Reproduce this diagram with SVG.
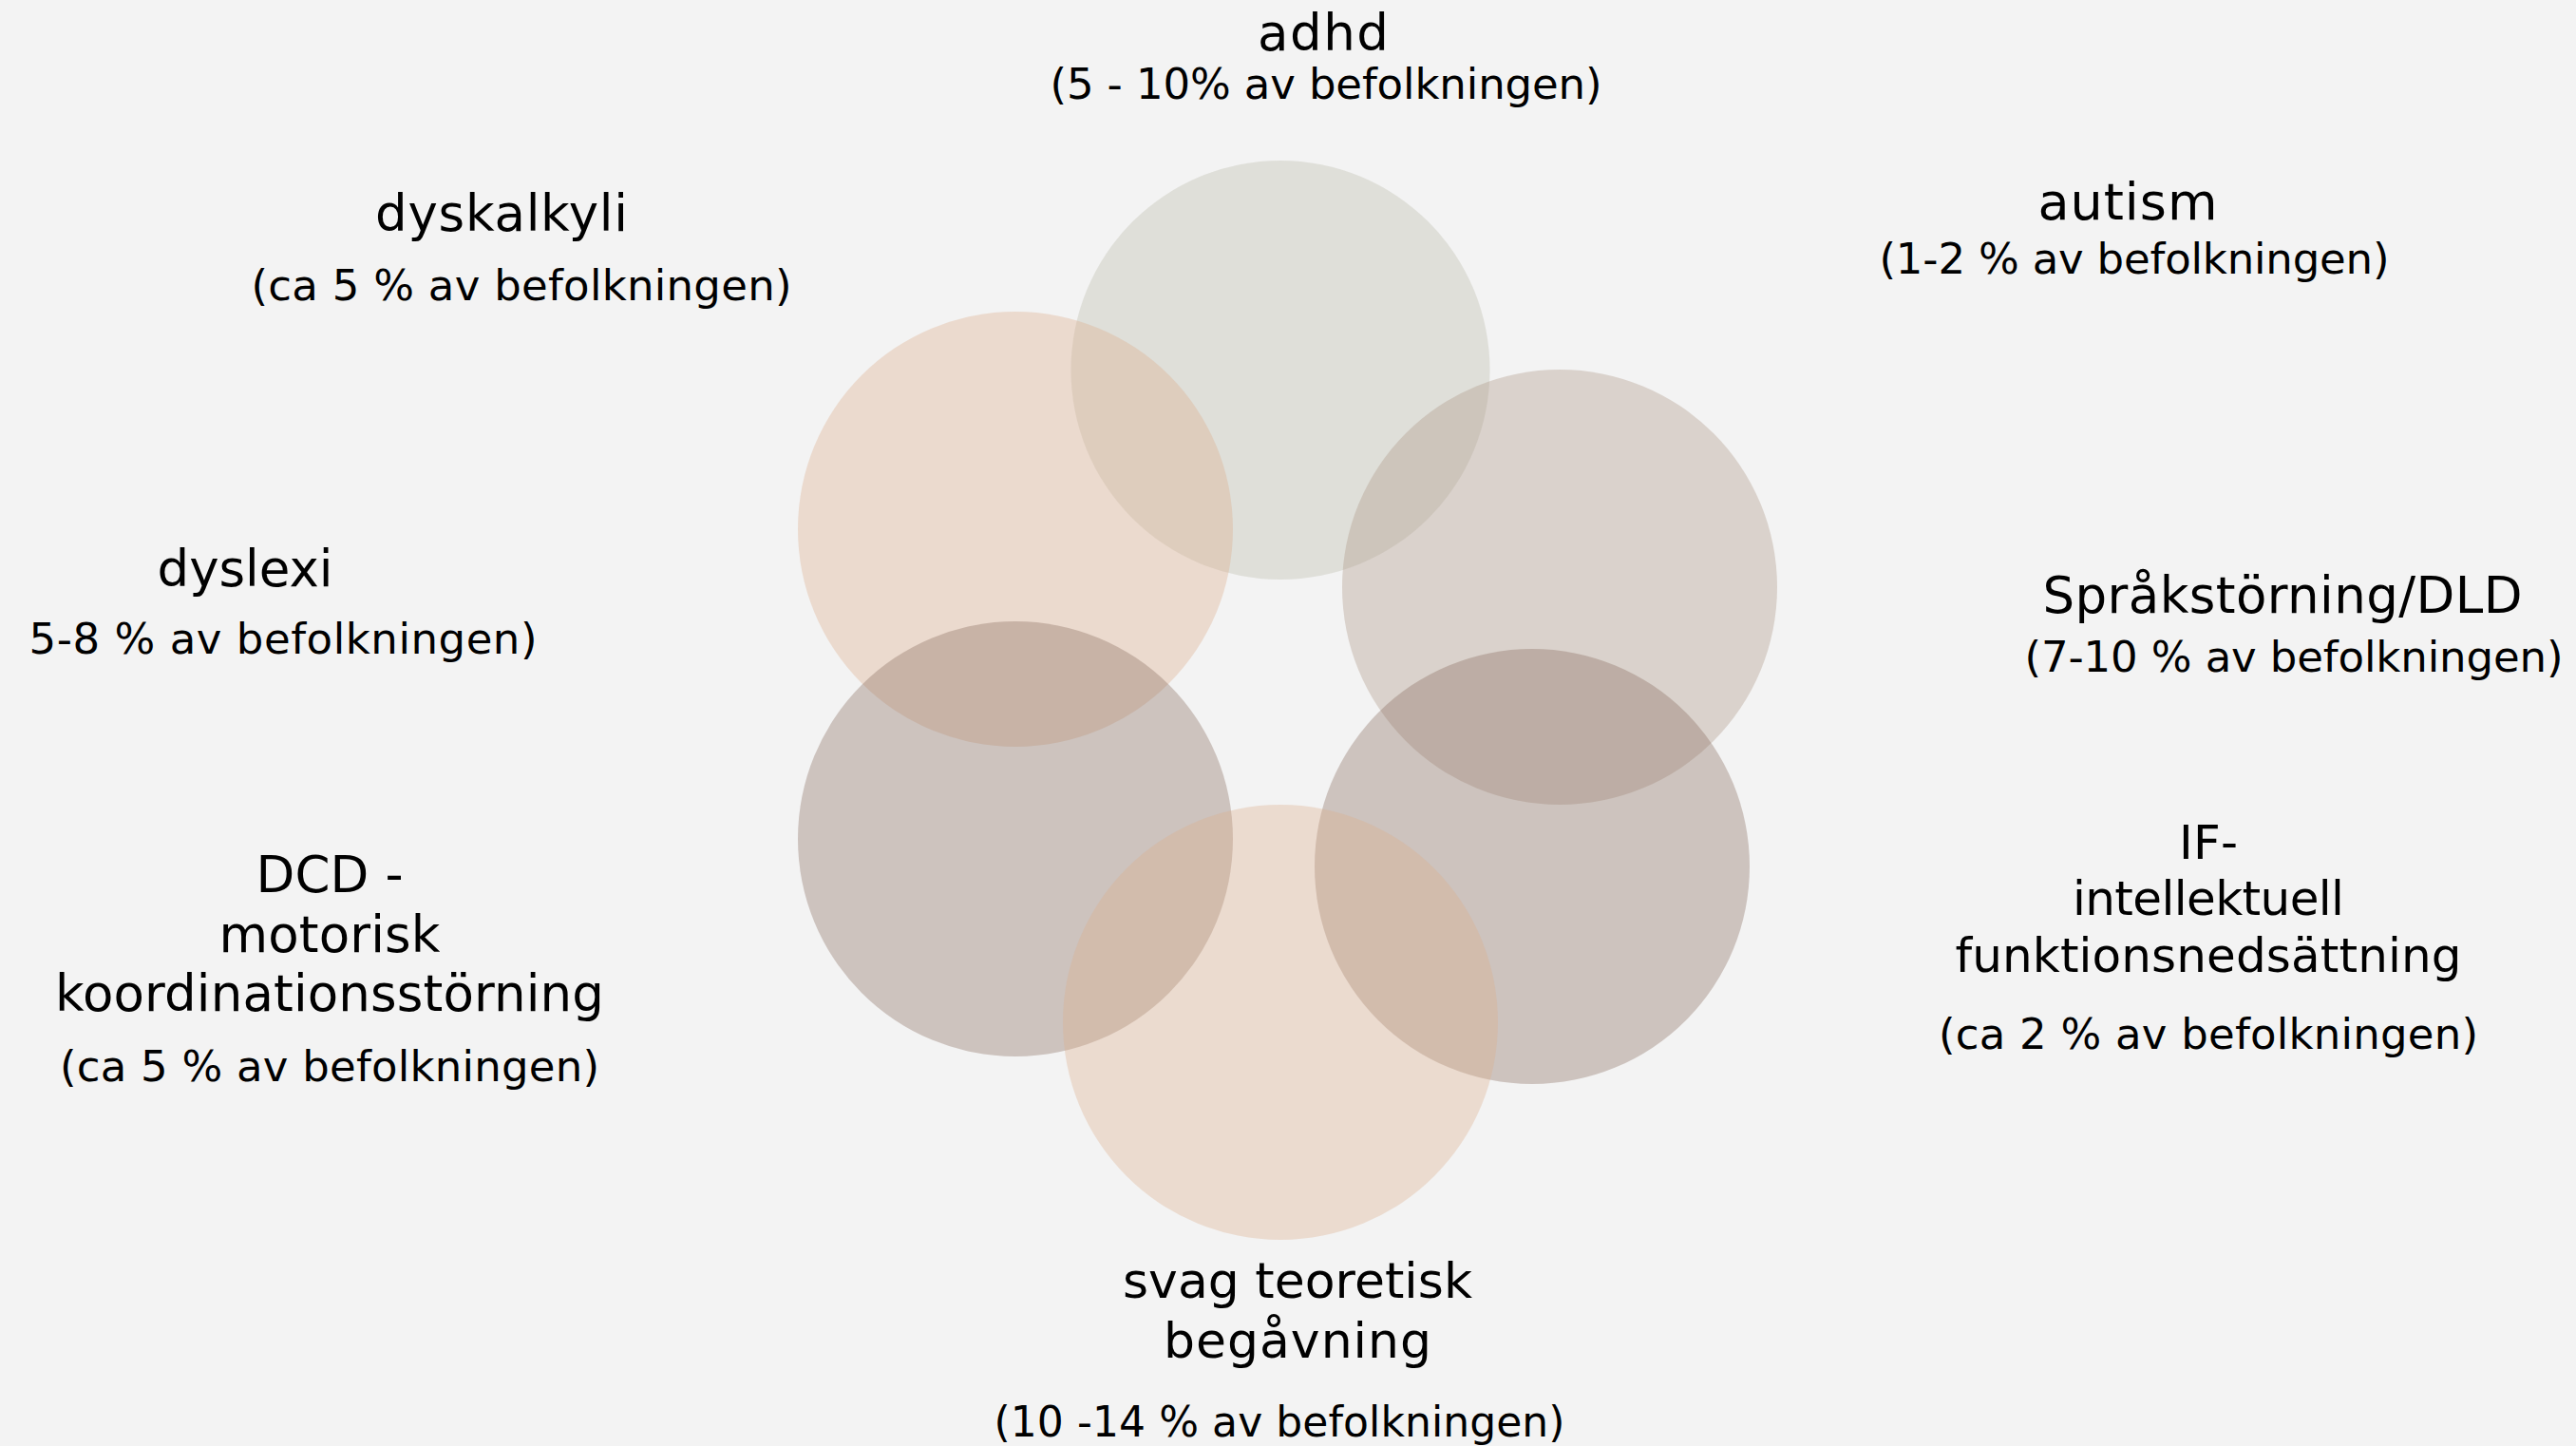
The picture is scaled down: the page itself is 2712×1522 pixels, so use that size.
<svg xmlns="http://www.w3.org/2000/svg" width="2712" height="1522" viewBox="0 0 2712 1522">
<style>
.bg{fill:#f3f3f3}
.c{fill-opacity:0.35}
.t{font-family:"DejaVu Sans","Liberation Sans",sans-serif;fill:#000;text-anchor:middle}
.h{font-size:53px}
.s{font-size:45px}
</style>
<rect class="bg" x="0" y="0" width="2712" height="1522"/>
<g id="adhd">
<circle class="c" cx="1348" cy="389.5" r="220.5" fill="#babaa9"/>
<text class="t h" x="1393" y="53" textLength="138" lengthAdjust="spacing">adhd</text>
<text class="t s" x="1396" y="104" textLength="581" lengthAdjust="spacing">(5 - 10% av befolkningen)</text>
</g>
<g id="dyskalkyli">
<circle class="c" cx="1069" cy="557" r="229" fill="#dcac89"/>
<text class="t h" x="528" y="243" textLength="266" lengthAdjust="spacing">dyskalkyli</text>
<text class="t s" x="549" y="316" textLength="569" lengthAdjust="spacing">(ca 5 % av befolkningen)</text>
</g>
<g id="autism">
<circle class="c" cx="1642" cy="618" r="229" fill="#ac9584"/>
<text class="t h" x="2240" y="231" style="font-size:54px" textLength="189" lengthAdjust="spacing">autism</text>
<text class="t s" x="2247" y="288" textLength="537" lengthAdjust="spacing">(1-2 % av befolkningen)</text>
</g>
<g id="dyslexi">
<text class="t h" x="258" y="617" textLength="185" lengthAdjust="spacing">dyslexi</text>
<text class="t s" x="298" y="688" textLength="535" lengthAdjust="spacing">5-8 % av befolkningen)</text>
</g>
<g id="dcd">
<circle class="c" cx="1069" cy="883" r="229" fill="#866a5c"/>
<text class="t h" x="347" y="939" textLength="155" lengthAdjust="spacing">DCD -</text>
<text class="t h" x="347" y="1002" textLength="233" lengthAdjust="spacing">motorisk</text>
<text class="t h" x="347" y="1064" textLength="578" lengthAdjust="spacing">koordinationsstörning</text>
<text class="t s" x="347" y="1138" textLength="568" lengthAdjust="spacing">(ca 5 % av befolkningen)</text>
</g>
<g id="sprakstorning">
<text class="t h" x="2403" y="645" textLength="505" lengthAdjust="spacing">Språkstörning/DLD</text>
<text class="t s" x="2415" y="707" textLength="567" lengthAdjust="spacing">(7-10 % av befolkningen)</text>
</g>
<g id="if">
<circle class="c" cx="1613" cy="912" r="229" fill="#876b5d"/>
<text class="t" x="2325" y="904" style="font-size:50px" textLength="62" lengthAdjust="spacing">IF-</text>
<text class="t" x="2325" y="963" style="font-size:50px" textLength="286" lengthAdjust="spacing">intellektuell</text>
<text class="t" x="2325" y="1023" style="font-size:50px" textLength="533" lengthAdjust="spacing">funktionsnedsättning</text>
<text class="t s" x="2325" y="1104" textLength="568" lengthAdjust="spacing">(ca 2 % av befolkningen)</text>
</g>
<g id="svag">
<circle class="c" cx="1348" cy="1076" r="229" fill="#dcae8c"/>
<text class="t" x="1366" y="1366" style="font-size:52px" textLength="368" lengthAdjust="spacing">svag teoretisk</text>
<text class="t" x="1366" y="1429" style="font-size:52px" textLength="282" lengthAdjust="spacing">begåvning</text>
<text class="t" x="1347" y="1512" style="font-size:44px" textLength="601" lengthAdjust="spacing">(10 -14 % av befolkningen)</text>
</g>
</svg>
